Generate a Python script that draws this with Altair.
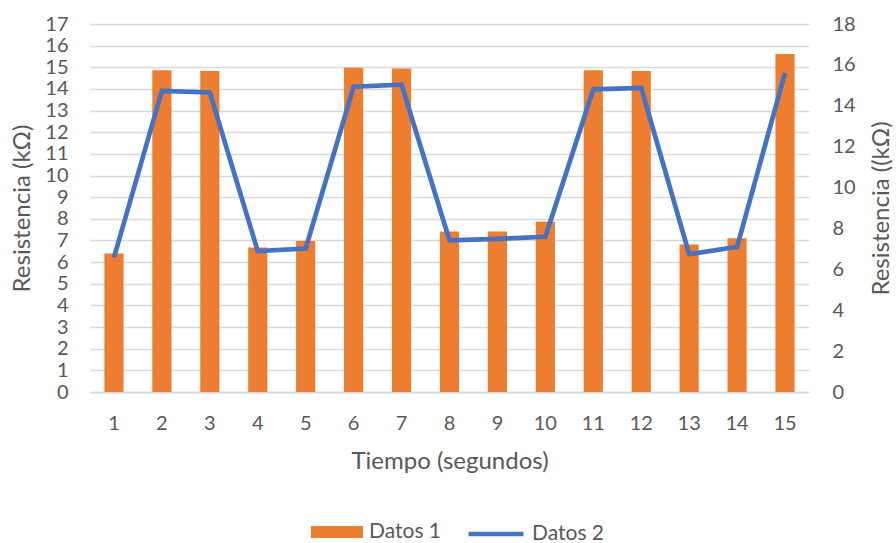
import altair as alt
import pandas as pd

# Measurements over time
tiempo = list(range(1, 16))
datos1 = [6.40, 14.86, 14.83, 6.67, 6.98, 14.98, 14.95, 7.41, 7.41, 7.86,
          14.86, 14.83, 6.81, 7.10, 15.61]
datos2 = [6.58, 14.73, 14.65, 6.89, 7.02, 14.93, 15.03, 7.42, 7.49, 7.59,
          14.80, 14.87, 6.74, 7.10, 15.61]

df = pd.DataFrame({"t": tiempo, "d1": datos1, "d2": datos2})

FONT = "Lato"
GRAY = "#595959"
ORANGE = "#ED7D31"
BLUE = "#4472C4"

x_enc = alt.X(
    "t:O",
    scale=alt.Scale(paddingInner=0, paddingOuter=0),
    axis=alt.Axis(
        title="Tiempo (segundos)", labelAngle=0, ticks=False, domain=True,
        domainColor="#d9d9d9", domainWidth=1.5, grid=False,
        labelPadding=21, titlePadding=16,
    ),
)

bars = alt.Chart(df).transform_calculate(serie="'Datos 1'").mark_bar(
    width=alt.RelativeBandSize(0.4)
).encode(
    x=x_enc,
    y=alt.Y(
        "d1:Q",
        scale=alt.Scale(domain=[0, 17], nice=False, zero=True),
        axis=alt.Axis(
            title="Resistencia (kΩ)", values=list(range(0, 18)), grid=True,
            gridColor="#d9d9d9", gridWidth=1.5, ticks=False, domain=False,
            labelPadding=22, titlePadding=10, orient="left",
        ),
    ),
    color=alt.Color(
        "serie:N",
        scale=alt.Scale(domain=["Datos 1"], range=[ORANGE]),
        legend=alt.Legend(
            title=None, orient="none", legendX=221, legendY=482, padding=0,
            symbolType="M-1,-0.23H1V0.23H-1Z", symbolSize=2704,
            symbolStrokeWidth=0, labelOffset=6,
        ),
    ),
)

line = alt.Chart(df).transform_calculate(serie="'Datos 2'").mark_line(
    strokeWidth=4.7
).encode(
    x=x_enc,
    y=alt.Y(
        "d2:Q",
        scale=alt.Scale(domain=[0, 18], nice=False, zero=True),
        axis=alt.Axis(
            title="Resistencia ((kΩ)", values=list(range(0, 19, 2)), grid=False,
            ticks=False, domain=False, labelPadding=23, titlePadding=14,
            titleAngle=270, titleBaseline="top", orient="right",
        ),
    ),
    color=alt.Color(
        "serie:N",
        scale=alt.Scale(domain=["Datos 2"], range=[BLUE]),
        legend=alt.Legend(
            title=None, orient="none", legendX=376, legendY=480, padding=0,
            symbolType="stroke", symbolSize=3025, symbolStrokeWidth=4.7,
            labelOffset=6,
        ),
    ),
)

chart = alt.layer(bars, line).resolve_scale(
    y="independent", color="independent"
).resolve_legend(color="independent").properties(
    width=719, height=368,
    autosize=alt.AutoSizeParams(type="none"),
    padding={"left": 90, "top": 24, "right": 87, "bottom": 151},
).configure_view(stroke=None).configure_axis(
    labelFont=FONT, titleFont=FONT, labelFontSize=20, titleFontSize=24,
    labelColor=GRAY, titleColor=GRAY, titleFontWeight="normal",
).configure_legend(
    labelFont=FONT, labelFontSize=21, labelColor=GRAY,
)

chart.save("out.html", embed_options={"renderer": "svg", "actions": False})
